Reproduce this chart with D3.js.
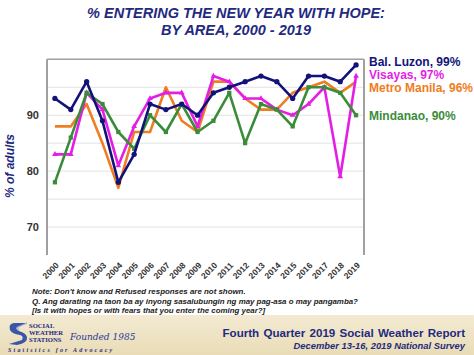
<!DOCTYPE html>
<html><head><meta charset="utf-8">
<script src="https://cdn.jsdelivr.net/npm/d3@7"></script>
<style>
html,body{margin:0;padding:0;background:#fff;}
svg{display:block;font-family:"Liberation Sans",Arial,sans-serif;}
</style></head>
<body>
<svg id="c" width="474" height="355"></svg>
<script>
const years = ["2000","2001","2002","2003","2004","2005","2006","2007","2008","2009","2010","2011","2012","2013","2014","2015","2016","2017","2018","2019"];
const balLuzon    = [93,91,96,89,78,83,92,91,92,90,94,95,96,97,96,93,97,97,96,99];
const visayas     = [83,83,94,91,81,88,93,94,94,88,97,96,93,93,91,90,92,95,79,97];
const metroManila = [88,88,92,85,77,87,87,95,89,87,96,96,93,91,91,94,95,96,94,96];
const mindanao    = [78,86,94,92,87,84,90,87,92,87,89,94,85,92,91,88,95,95,94,90];
const yTicks = [70,80,90];
const gridVals = [70,75,80,85,90,95];
const seriesNames = ["Metro Manila","Visayas","Mindanao","Bal. Luzon"];
const legendLabels = ["Bal. Luzon, 99%","Visayas, 97%","Metro Manila, 96%","Mindanao, 90%"];

const svg = d3.select("#c");
const navy = "#12127a", mag = "#e51ee5", org = "#ef7d22", grn = "#3a8c3a";
const titleCol = "#1f2a80";

// footer band
const defs = svg.append("defs");
const lg = defs.append("linearGradient").attr("id","fg").attr("x1",0).attr("y1",0).attr("x2",0).attr("y2",1);
lg.append("stop").attr("offset","0%").attr("stop-color","#f3ead2");
lg.append("stop").attr("offset","100%").attr("stop-color","#e9dcb6");
svg.append("rect").attr("x",0).attr("y",315).attr("width",474).attr("height",40).attr("fill","url(#fg)");

// title
svg.append("text").attr("x",236).attr("y",18).attr("text-anchor","middle")
  .attr("font-size",14.5).attr("font-weight","bold").attr("font-style","italic").attr("fill",titleCol)
  .text("% ENTERING THE NEW YEAR WITH HOPE:");
svg.append("text").attr("x",236).attr("y",35).attr("text-anchor","middle")
  .attr("font-size",14.5).attr("font-weight","bold").attr("font-style","italic").attr("fill",titleCol)
  .text("BY AREA,  2000 - 2019");

const x = d3.scalePoint().domain(years).range([47,364]).padding(0.5);
const y = d3.scaleLinear().domain([65,100]).range([255,59.3]);

// gridlines
svg.append("g").selectAll("line").data(gridVals).join("line")
  .attr("x1",47).attr("x2",364).attr("y1",d=>y(d)).attr("y2",d=>y(d))
  .attr("stroke","#e2e2e2").attr("stroke-width",1);
// frame
svg.append("line").attr("x1",47).attr("x2",364).attr("y1",y(100)).attr("y2",y(100)).attr("stroke","#a0a0a0").attr("stroke-width",1.5);
svg.append("line").attr("x1",47).attr("x2",47).attr("y1",y(100)).attr("y2",y(65)).attr("stroke","#a0a0a0").attr("stroke-width",2);
svg.append("line").attr("x1",364).attr("x2",364).attr("y1",y(100)).attr("y2",y(65)).attr("stroke","#a0a0a0").attr("stroke-width",2);

// y axis
const yAxis = svg.append("g").attr("transform","translate(47,0)")
  .call(d3.axisLeft(y).tickValues(yTicks).tickSize(0).tickPadding(8));
yAxis.select(".domain").remove();
yAxis.selectAll("text").attr("font-size",11).attr("font-weight","bold").attr("fill","#333")
  .attr("font-family","'Liberation Sans',Arial,sans-serif");

// x axis
const xAxis = svg.append("g").attr("transform","translate(0,255)")
  .call(d3.axisBottom(x).tickSize(0).tickPadding(0));
xAxis.select(".domain").remove();
xAxis.selectAll("text").attr("font-size",8.5).attr("font-weight","bold").attr("fill","#333")
  .attr("font-family","'Liberation Sans',Arial,sans-serif")
  .attr("text-anchor","end").attr("dy",0)
  .attr("transform","translate(4,11) rotate(-45)");

// y title
svg.append("text").attr("transform","translate(14,166) rotate(-90)").attr("text-anchor","middle")
  .attr("font-size",12).attr("font-weight","bold").attr("font-style","italic").attr("fill",titleCol)
  .text("% of adults");

const series = {
  "Metro Manila": {vals: metroManila, color: org, marker: "none"},
  "Visayas": {vals: visayas, color: mag, marker: "triangle"},
  "Mindanao": {vals: mindanao, color: grn, marker: "square"},
  "Bal. Luzon": {vals: balLuzon, color: navy, marker: "circle"}
};
const line = d3.line().x((d,i)=>x(years[i])).y(d=>y(d));
seriesNames.forEach(n=>{
  const s = series[n];
  const g = svg.append("g");
  g.append("path").datum(s.vals).attr("d",line).attr("fill","none")
    .attr("stroke",s.color).attr("stroke-width",2.6).attr("stroke-linejoin","round");
  if (s.marker !== "none") {
    const sym = s.marker==="circle"?d3.symbolCircle:(s.marker==="square"?d3.symbolSquare:d3.symbolTriangle);
    const sz = s.marker==="circle"?22:(s.marker==="square"?18:14);
    g.selectAll("path.m").data(s.vals).join("path").attr("class","m")
      .attr("d",d3.symbol().type(sym).size(sz))
      .attr("transform",(d,i)=>`translate(${x(years[i])},${y(d)})`)
      .attr("fill",s.color);
  }
});

// legend
const legCols = [navy, mag, org, grn];
const legY = [66, 78.5, 91.5, 120];
svg.append("g").selectAll("text").data(legendLabels).join("text")
  .attr("x",369).attr("y",(d,i)=>legY[i]).attr("font-size",12).attr("font-weight","bold")
  .attr("fill",(d,i)=>legCols[i]).text(d=>d);

// notes
const notes = ["Note: Don't know and Refused responses are not shown.",
  "Q. Ang darating na taon ba ay inyong sasalubungin ng may pag-asa o may pangamba?",
  "[Is it with hopes or with fears that you enter the coming  year?]"];
svg.append("g").selectAll("text").data(notes).join("text")
  .attr("x",32).attr("y",(d,i)=>294+i*9.7).attr("font-size",7.9).attr("font-weight","bold")
  .attr("font-style","italic").attr("fill","#222").text(d=>d);

// footer right
svg.append("text").attr("x",465).attr("y",337).attr("text-anchor","end")
  .attr("font-size",11.6).attr("font-weight","bold").attr("fill",titleCol)
  .attr("word-spacing",1)
  .text("Fourth Quarter 2019 Social Weather Report");
svg.append("text").attr("x",465).attr("y",349).attr("text-anchor","end")
  .attr("font-size",9.4).attr("font-weight","bold").attr("font-style","italic").attr("fill",titleCol)
  .text("December 13-16, 2019 National Survey");

// logo
const logo = svg.append("g");
logo.append("path").attr("d","M27,323 L14,323 Q8,324 10,330 Q12,334 20,335 Q24,336 22,340 L9,344 L17,345 Q28,343 27,337 Q26,333 19,331 Q15,329 17,327 Z")
  .attr("fill","#3a56a8");
logo.append("path").attr("d","M27,323 L20,326 Q16,328 19,330").attr("fill","none").attr("stroke","#8fa6d8").attr("stroke-width",1.2);
const serif = "'Liberation Serif','DejaVu Serif',serif";
[["SOCIAL",327.5],["WEATHER",334.5],["STATIONS",341.5]].forEach(([t,yy])=>{
  logo.append("text").attr("x",29).attr("y",yy).attr("font-family",serif).attr("font-size",6.6)
    .attr("font-weight","bold").attr("fill",titleCol).text(t);
});
logo.append("text").attr("x",70).attr("y",340).attr("font-family","'DejaVu Serif',serif")
  .attr("font-size",9).attr("font-style","italic").attr("fill","#2a3a9a")
  .text("Founded 1985");
logo.append("text").attr("x",8).attr("y",351.5).attr("font-family",serif).attr("font-size",6)
  .attr("font-weight","bold").attr("font-style","italic").attr("fill",titleCol)
  .attr("letter-spacing",2.2).text("Statistics for Advocacy");
</script>
</body></html>
